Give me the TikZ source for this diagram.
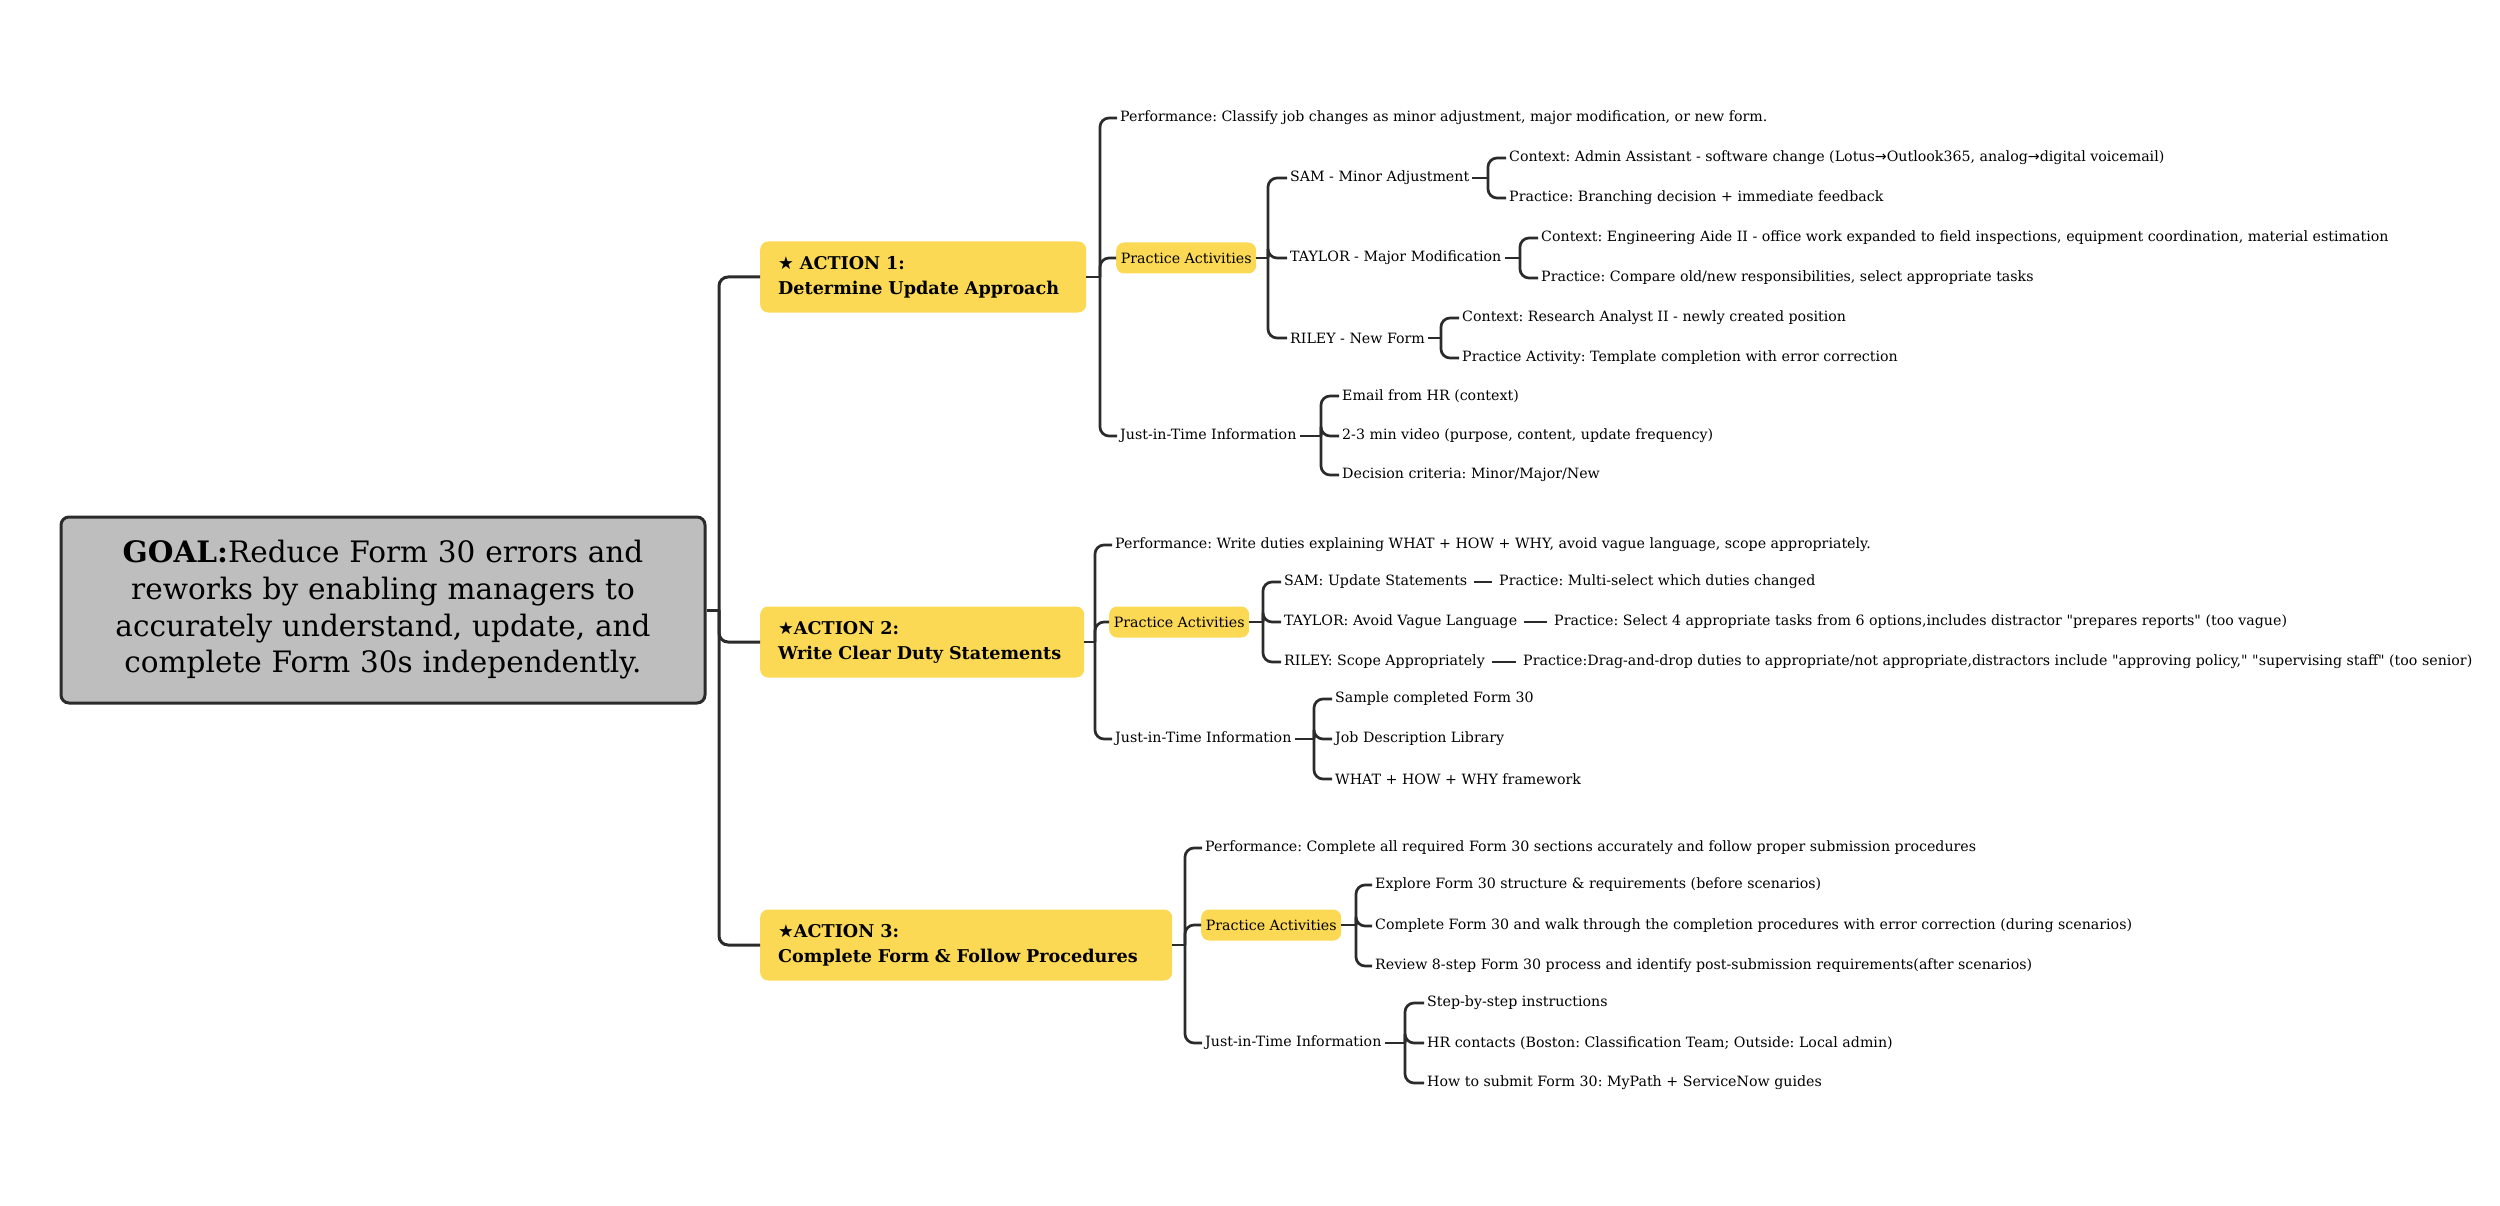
\documentclass[tikz,border=0pt]{standalone}
\usepackage{fontspec}
\setmainfont{DejaVu Serif}
\newfontfamily\mapfont{DejaVu Serif}
\newfontfamily\symfont{DejaVu Sans}
\usetikzlibrary{calc}

\definecolor{mapyellow}{HTML}{FBD955}
\definecolor{goalgray}{HTML}{BEBEBE}
\definecolor{mapline}{HTML}{2B2B2B}

\newcommand{\arr}{{\symfont →}}
\newcommand{\str}{{\symfont ★}}
\frenchspacing
\hyphenpenalty=10000

\begin{document}
\begin{tikzpicture}[
  x=1pt, y=-1pt,
  branch/.style={draw=mapline, line width=2.7pt, rounded corners=9pt},
  leaf/.style={anchor=west, inner xsep=3pt, inner ysep=1pt,
    font=\mapfont\fontsize{14.2}{17}\selectfont},
  goalbox/.style={draw=mapline, line width=3pt, fill=goalgray, rounded corners=8pt,
    minimum width=644pt, minimum height=186pt, align=center, text width=630pt,
    font=\fontsize{29.5}{36.7}\selectfont},
  actbox/.style={fill=mapyellow, rounded corners=8pt, anchor=west, align=left,
    inner xsep=18pt, minimum height=71pt, font=\fontsize{17.6}{25}\selectfont\bfseries},
  pabox/.style={fill=mapyellow, rounded corners=8pt, anchor=west, inner xsep=4pt,
    minimum width=140pt, minimum height=31pt, font=\mapfont\fontsize{14.2}{17}\selectfont},
]
  \useasboundingbox (0,0) rectangle (2500,1206);

  % goal and the three actions
  \node[goalbox] (goal) at (383,610) {\textbf{GOAL:}Reduce Form 30 errors and\\
    reworks by enabling managers to\\ accurately understand, update, and\\
    complete Form 30s independently.};
  \node[actbox, text width=290pt] (a1) at (760,277) {\str\ ACTION 1:\\Determine Update Approach};
  \node[actbox, text width=288pt] (a2) at (760,642) {\str ACTION 2:\\Write Clear Duty Statements};
  \node[actbox, text width=376pt] (a3) at (760,945) {\str ACTION 3:\\Complete Form \& Follow Procedures};

  \coordinate (k0) at (719,610);
  \draw[branch, line width=3pt] (goal.east) -- (k0);
  \foreach \c in {a1,a2,a3}
    \draw[branch, line width=3pt] (k0) |- (\c.west);

  % ACTION 1
  \node[leaf] (perf1) at (1117,118) {Performance: Classify job changes as minor adjustment, major modification, or new form.};
  \node[pabox] (pa1) at (1116,258) {Practice Activities};
  \node[leaf] (jit1) at (1117,436) {Just-in-Time Information};
  \coordinate (k1) at (1100,277);
  \draw[branch] (a1.east) -- (k1);
  \foreach \c in {perf1,pa1,jit1}
    \draw[branch] (k1) |- (\c.west);

  \node[leaf] (sam1) at (1287,178) {SAM - Minor Adjustment};
  \node[leaf] (tay1) at (1287,258) {TAYLOR - Major Modification};
  \node[leaf] (ril1) at (1287,338) {RILEY - New Form};
  \coordinate (kpa1) at (1268,258);
  \draw[branch] (pa1.east) -- (kpa1);
  \foreach \c in {sam1,tay1,ril1}
    \draw[branch] (kpa1) |- (\c.west);

  \node[leaf] (sam1c) at (1506,158) {Context: Admin Assistant - software change (Lotus\arr Outlook365, analog\arr digital voicemail)};
  \node[leaf] (sam1p) at (1506,198) {Practice: Branching decision + immediate feedback};
  \coordinate (ksam1) at (1488,178);
  \draw[branch] (sam1.east) -- (ksam1);
  \foreach \c in {sam1c,sam1p}
    \draw[branch] (ksam1) |- (\c.west);

  \node[leaf] (tay1c) at (1538,238) {Context: Engineering Aide II - office work expanded to field inspections, equipment coordination, material estimation};
  \node[leaf] (tay1p) at (1538,278) {Practice: Compare old/new responsibilities, select appropriate tasks};
  \coordinate (ktay1) at (1520,258);
  \draw[branch] (tay1.east) -- (ktay1);
  \foreach \c in {tay1c,tay1p}
    \draw[branch] (ktay1) |- (\c.west);

  \node[leaf] (ril1c) at (1459,318) {Context: Research Analyst II - newly created position};
  \node[leaf] (ril1p) at (1459,358) {Practice Activity: Template completion with error correction};
  \coordinate (kril1) at (1441,338);
  \draw[branch] (ril1.east) -- (kril1);
  \foreach \c in {ril1c,ril1p}
    \draw[branch] (kril1) |- (\c.west);

  \node[leaf] (jit1a) at (1339,396) {Email from HR (context)};
  \node[leaf] (jit1b) at (1339,436) {2-3 min video (purpose, content, update frequency)};
  \node[leaf] (jit1c) at (1339,475) {Decision criteria: Minor/Major/New};
  \coordinate (kjit1) at (1321,436);
  \draw[branch] (jit1.east) -- (kjit1);
  \foreach \c in {jit1a,jit1b,jit1c}
    \draw[branch] (kjit1) |- (\c.west);

  % ACTION 2
  \node[leaf] (perf2) at (1112,545) {Performance: Write duties explaining WHAT + HOW + WHY, avoid vague language, scope appropriately.};
  \node[pabox] (pa2) at (1109,622) {Practice Activities};
  \node[leaf] (jit2) at (1112,739) {Just-in-Time Information};
  \coordinate (k2) at (1095,642);
  \draw[branch] (a2.east) -- (k2);
  \foreach \c in {perf2,pa2,jit2}
    \draw[branch] (k2) |- (\c.west);

  \node[leaf] (sam2) at (1281,582) {SAM: Update Statements};
  \node[leaf] (tay2) at (1281,622) {TAYLOR: Avoid Vague Language};
  \node[leaf] (ril2) at (1281,662) {RILEY: Scope Appropriately};
  \coordinate (kpa2) at (1263,622);
  \draw[branch] (pa2.east) -- (kpa2);
  \foreach \c in {sam2,tay2,ril2}
    \draw[branch] (kpa2) |- (\c.west);

  \node[leaf] (sam2p) at (1496,582) {Practice: Multi-select which duties changed};
  \node[leaf] (tay2p) at (1551,622) {Practice: Select 4 appropriate tasks from 6 options,includes distractor "prepares reports" (too vague)};
  \node[leaf] (ril2p) at (1520,662) {Practice:Drag-and-drop duties to appropriate/not appropriate,distractors include "approving policy," "supervising staff" (too senior)};
  \draw[branch] (sam2.east) ++(4,0) -- ([xshift=-4pt]sam2p.west);
  \draw[branch] (tay2.east) ++(4,0) -- ([xshift=-4pt]tay2p.west);
  \draw[branch] (ril2.east) ++(4,0) -- ([xshift=-4pt]ril2p.west);

  \node[leaf] (jit2a) at (1332,699) {Sample completed Form 30};
  \node[leaf] (jit2b) at (1332,739) {Job Description Library};
  \node[leaf] (jit2c) at (1332,779) {WHAT + HOW + WHY framework};
  \coordinate (kjit2) at (1314,739);
  \draw[branch] (jit2.east) -- (kjit2);
  \foreach \c in {jit2a,jit2b,jit2c}
    \draw[branch] (kjit2) |- (\c.west);

  % ACTION 3
  \node[leaf] (perf3) at (1202,848) {Performance: Complete all required Form 30 sections accurately and follow proper submission procedures};
  \node[pabox] (pa3) at (1201,925) {Practice Activities};
  \node[leaf] (jit3) at (1202,1043) {Just-in-Time Information};
  \coordinate (k3) at (1185,945);
  \draw[branch] (a3.east) -- (k3);
  \foreach \c in {perf3,pa3,jit3}
    \draw[branch] (k3) |- (\c.west);

  \node[leaf] (pa3a) at (1372,885) {Explore Form 30 structure \& requirements (before scenarios)};
  \node[leaf] (pa3b) at (1372,926) {Complete Form 30 and walk through the completion procedures with error correction (during scenarios)};
  \node[leaf] (pa3c) at (1372,966) {Review 8-step Form 30 process and identify post-submission requirements(after scenarios)};
  \coordinate (kpa3) at (1356,925);
  \draw[branch] (pa3.east) -- (kpa3);
  \foreach \c in {pa3a,pa3b,pa3c}
    \draw[branch] (kpa3) |- (\c.west);

  \node[leaf] (jit3a) at (1424,1003) {Step-by-step instructions};
  \node[leaf] (jit3b) at (1424,1043) {HR contacts (Boston: Classification Team; Outside: Local admin)};
  \node[leaf] (jit3c) at (1424,1083) {How to submit Form 30: MyPath + ServiceNow guides};
  \coordinate (kjit3) at (1405,1043);
  \draw[branch] (jit3.east) -- (kjit3);
  \foreach \c in {jit3a,jit3b,jit3c}
    \draw[branch] (kjit3) |- (\c.west);
\end{tikzpicture}
\end{document}
